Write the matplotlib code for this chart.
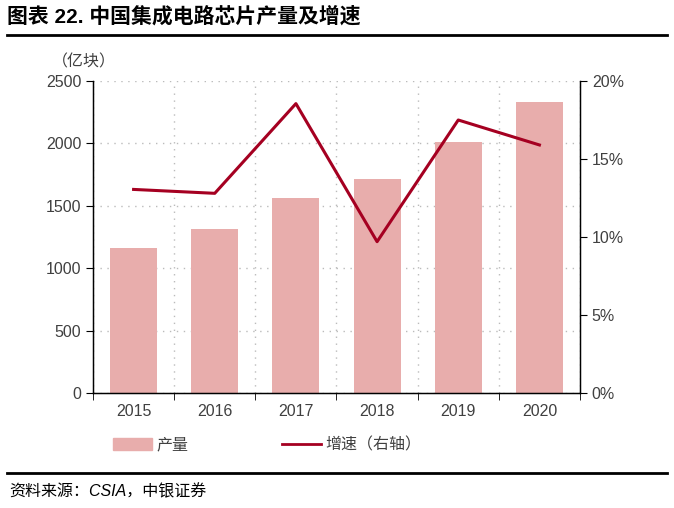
import matplotlib
matplotlib.use("Agg")
import matplotlib.pyplot as plt
from matplotlib.patches import Patch
from matplotlib.lines import Line2D

plt.rcParams['font.family'] = ['Liberation Sans', 'Noto Sans CJK SC', 'DejaVu Sans']

years = ['2015', '2016', '2017', '2018', '2019', '2020']
output = [1165, 1315, 1560, 1712, 2013, 2335]
growth = [13.05, 12.8, 18.55, 9.7, 17.5, 15.9]
left_ticks = [0, 500, 1000, 1500, 2000, 2500]
right_ticks = [0, 5, 10, 15, 20]

bar_color = '#E8ADAC'
line_color = '#A50021'
text_color = '#404040'

fig = plt.figure(figsize=(6.74, 5.08), dpi=100)
W, H = 674, 508
ax = fig.add_axes([93 / W, 1 - 393 / H, (580 - 93) / W, (393 - 81) / H])

x = list(range(len(years)))
ax.bar(x, output, width=0.58, color=bar_color, zorder=2)
ax.set_xlim(-0.5, len(years) - 0.5)
ax.set_ylim(0, 2500)
ax.set_yticks(left_ticks)
ax.set_yticklabels([str(t) for t in left_ticks], fontsize=11.5, color=text_color)
ax.set_xticks(x)
ax.set_xticklabels(years, fontsize=11.5, color=text_color)
ax.tick_params(axis='x', length=0, pad=8)
ax.set_xticks([i - 0.5 for i in range(len(years) + 1)], minor=True)
ax.tick_params(axis='x', which='minor', length=5, direction='out', color='black')
ax.tick_params(axis='y', length=5, direction='out', color='black')
ax.grid(axis='y', linestyle=(0, (1, 4)), color='#BBBBBB', linewidth=1, zorder=0)
ax.grid(axis='x', which='minor', linestyle=(0, (1, 4)), color='#BBBBBB', linewidth=1, zorder=0)
ax.spines['top'].set_visible(False)
for s in ['left', 'bottom', 'right']:
    ax.spines[s].set_color('black')
    ax.spines[s].set_linewidth(1)

ax2 = ax.twinx()
ax2.plot(x, growth, color=line_color, linewidth=2.2, zorder=3)
ax2.set_ylim(0, 20)
ax2.set_yticks(right_ticks)
ax2.set_yticklabels([f'{t}%' for t in right_ticks], fontsize=11.5, color=text_color)
ax2.tick_params(axis='y', length=5, direction='out', color='black')
ax2.spines['top'].set_visible(False)
ax2.spines['right'].set_color('black')

fig.text(52 / W, 1 - 62 / H, '（亿块）', fontsize=11.5, color=text_color, va='center', ha='left')

fig.text(7 / W, 1 - 16 / H, '图表 22. 中国集成电路芯片产量及增速', fontsize=15, fontweight='heavy',
         va='center', ha='left', color='black')
fig.add_artist(Line2D([7 / W, 667 / W], [1 - 35 / H, 1 - 35 / H], color='black', linewidth=2))
fig.add_artist(Line2D([7 / W, 667 / W], [1 - 473 / H, 1 - 473 / H], color='black', linewidth=2))
fig.text(9 / W, 1 - 492 / H, '资料来源：CSIA，中银证券', fontsize=11.5, style='italic',
         va='center', ha='left', color='black')

handles = [Patch(color=bar_color), Line2D([0], [0], color=line_color, linewidth=2)]
labels = ['产量', '增速（右轴）']
fig.legend(handles, labels, loc='center left', bbox_to_anchor=(113 / W, 1 - 445 / H), ncol=2,
           frameon=False, fontsize=11.5, columnspacing=5.8, handlelength=2.45,
           handletextpad=0.3, borderpad=0, borderaxespad=0,
           labelcolor=text_color)

fig.savefig('out.png', dpi=100)
